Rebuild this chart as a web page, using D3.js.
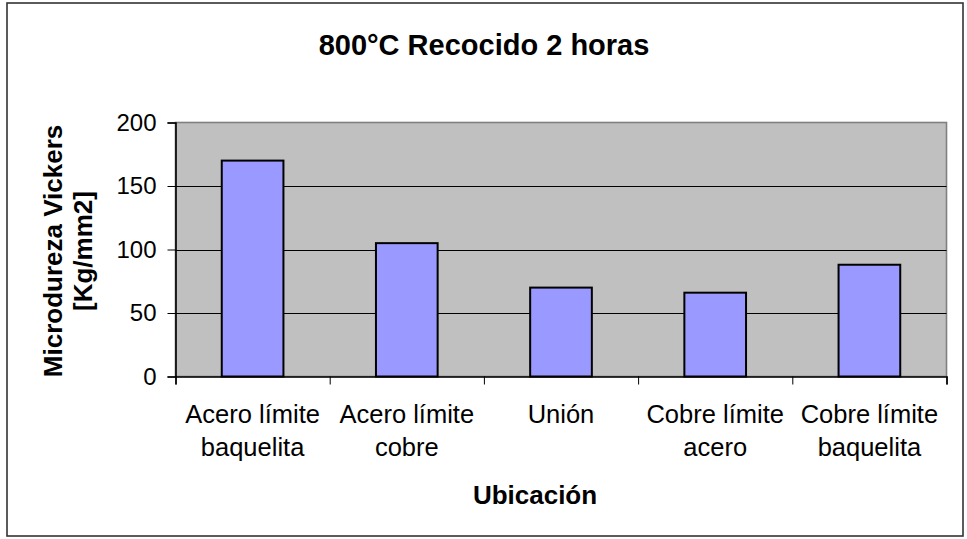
<!DOCTYPE html>
<html><head><meta charset="utf-8">
<script src="https://cdn.jsdelivr.net/npm/d3@7"></script>
<style>body{margin:0;background:#fff}svg{display:block}text{font-family:"Liberation Sans",Arial,sans-serif;fill:#000}</style>
</head><body><svg id="c" width="967" height="539"></svg>
<script>
const categories = [["Acero límite","baquelita"],["Acero límite","cobre"],["Unión"],["Cobre límite","acero"],["Cobre límite","baquelita"]];
const values = [170, 105, 70, 66, 88];
const yTicks = [0, 50, 100, 150, 200];
const title = "800°C Recocido 2 horas";
const yTitle = ["Microdureza Vickers","[Kg/mm2]"];
const xTitle = "Ubicación";

const FONT = "Liberation Sans, Arial, sans-serif";
const svg = d3.select("#c");
svg.append("rect").attr("x",7).attr("y",3).attr("width",956).attr("height",533)
  .attr("fill","#fff").attr("stroke","#333").attr("stroke-width",1.6);

const L=175.5, R=946.5, T=122.5, B=376.5;
const x = d3.scaleBand().domain(d3.range(values.length)).range([L,R]).paddingInner(0).paddingOuter(0);
const y = d3.scaleLinear().domain([0,200]).range([B,T]);

svg.append("rect").attr("x",L).attr("y",T).attr("width",R-L).attr("height",B-T)
  .attr("fill","#c0c0c0").attr("stroke","#808080").attr("stroke-width",1.6);

svg.append("g").selectAll("line").data(yTicks.filter(d=>d>0 && d<200)).join("line")
  .attr("x1",L).attr("x2",R).attr("y1",d=>Math.round(y(d))+0.5).attr("y2",d=>Math.round(y(d))+0.5)
  .attr("stroke","#000").attr("stroke-width",1);

const bw = x.bandwidth()*0.4;
svg.append("g").selectAll("rect").data(values).join("rect")
  .attr("x",(d,i)=>x(i)+x.bandwidth()/2-bw/2).attr("width",bw)
  .attr("y",d=>y(d)).attr("height",d=>B-y(d))
  .attr("fill","#9999ff").attr("stroke","#000").attr("stroke-width",2);

// y axis
const ya = svg.append("g").attr("transform",`translate(${L},0)`)
  .call(d3.axisLeft(y).tickValues(yTicks).tickSize(8).tickPadding(11));
ya.select(".domain").attr("stroke","#000").attr("stroke-width",1.6);
ya.selectAll(".tick line").attr("stroke","#000");
ya.selectAll(".tick text").attr("font-size",24).style("font-family",FONT).attr("fill","#000");

// x axis
const xb = d3.scaleLinear().domain([0,values.length]).range([L,R]);
const xa = svg.append("g").attr("transform",`translate(0,${B})`)
  .call(d3.axisBottom(xb).tickValues(d3.range(values.length+1)).tickSize(8).tickFormat(""));
xa.select(".domain").attr("stroke","#000").attr("stroke-width",1.6);
xa.selectAll(".tick line").attr("stroke","#000");

const lab = svg.append("g");
categories.forEach((c,i)=>{
  const cx = x(i)+x.bandwidth()/2;
  const t = lab.append("text").attr("x",cx).attr("y",423)
    .attr("text-anchor","middle").attr("font-size",25.5);
  c.forEach((s,j)=>t.append("tspan").attr("x",cx).attr("dy",j?33:0).text(s));
});

svg.append("text").attr("x",484).attr("y",55).attr("text-anchor","middle")
  .attr("font-size",29).attr("font-weight","bold").text(title);
svg.append("text").attr("x",535).attr("y",504).attr("text-anchor","middle")
  .attr("font-size",26).attr("font-weight","bold").text(xTitle);
yTitle.forEach((s,j)=>{
  svg.append("text").attr("transform",`translate(${62+j*30},${251}) rotate(-90)`)
    .attr("text-anchor","middle").attr("font-size",26).attr("font-weight","bold").text(s);
});
</script></body></html>
